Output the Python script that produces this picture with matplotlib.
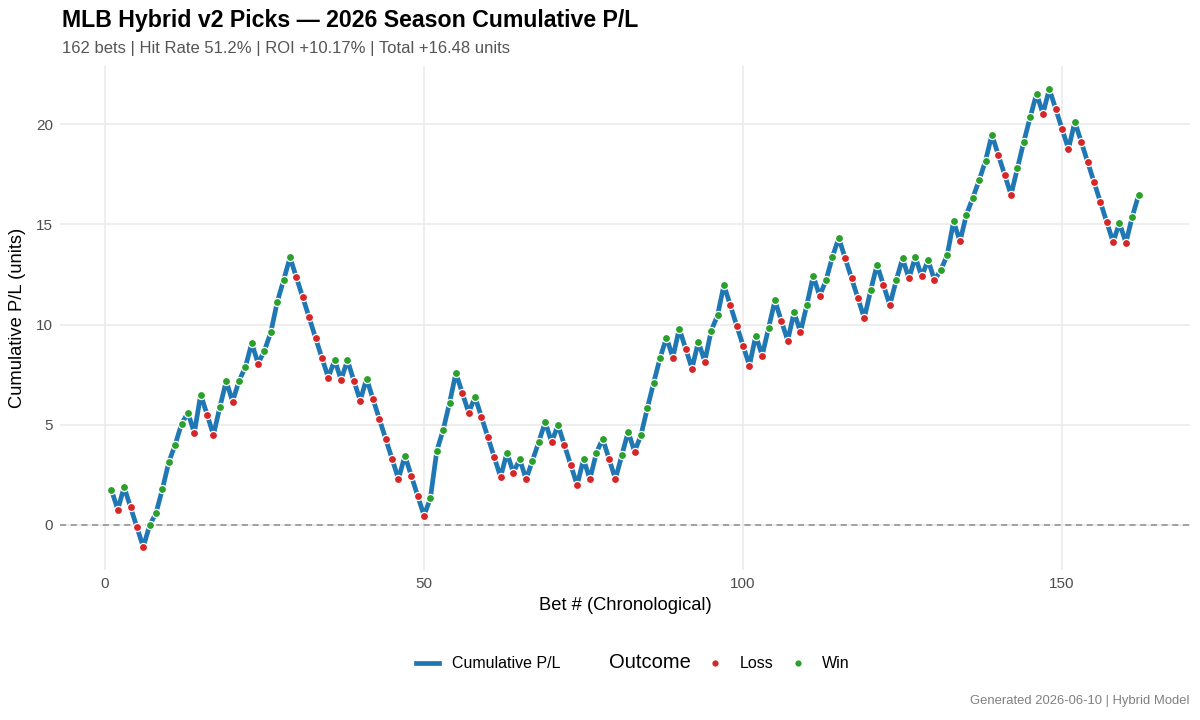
import numpy as np
import matplotlib
matplotlib.use("Agg")
import matplotlib.pyplot as plt
from matplotlib.lines import Line2D

plt.rcParams['font.family'] = ['Liberation Sans', 'DejaVu Sans']

# cumulative P/L after each bet
cum_pl = [
    1.75, 0.75, 1.88, 0.88, -0.12, -1.12, -0.03, 0.58, 1.78, 3.12,
    4.00, 5.03, 5.60, 4.58, 6.50, 5.50, 4.48, 5.87, 7.17, 6.15,
    7.18, 7.87, 9.07, 8.05, 8.70, 9.62, 11.13, 12.22, 13.35, 12.35,
    11.35, 10.35, 9.33, 8.33, 7.35, 8.23, 7.23, 8.22, 7.20, 6.20,
    7.30, 6.28, 5.28, 4.28, 3.28, 2.28, 3.45, 2.45, 1.45, 0.45,
    1.32, 3.68, 4.73, 6.08, 7.58, 6.58, 5.60, 6.38, 5.38, 4.38,
    3.38, 2.38, 3.60, 2.60, 3.27, 2.27, 3.20, 4.15, 5.13, 4.12,
    4.98, 3.98, 2.98, 1.98, 3.27, 2.27, 3.57, 4.30, 3.28, 2.28,
    3.47, 4.65, 3.65, 4.47, 5.82, 7.10, 8.33, 9.35, 8.35, 9.80,
    8.80, 7.80, 9.15, 8.15, 9.68, 10.45, 11.97, 10.97, 9.95, 8.95,
    7.95, 9.45, 8.45, 9.83, 11.20, 10.18, 9.20, 10.62, 9.62, 10.98,
    12.43, 11.43, 12.20, 13.37, 14.32, 13.32, 12.32, 11.32, 10.32, 11.70,
    12.98, 11.98, 10.97, 12.20, 13.30, 12.30, 13.38, 12.40, 13.22, 12.22,
    12.72, 13.47, 15.15, 14.15, 15.48, 16.32, 17.20, 18.18, 19.48, 18.48,
    17.48, 16.48, 17.80, 19.13, 20.35, 21.53, 20.53, 21.77, 20.77, 19.77,
    18.77, 20.13, 19.13, 18.13, 17.12, 16.12, 15.12, 14.12, 15.08, 14.08,
    15.38, 16.48,
]

title = "MLB Hybrid v2 Picks \u2014 2026 Season Cumulative P/L"
subtitle = "162 bets | Hit Rate 51.2% | ROI +10.17% | Total +16.48 units"
caption = "Generated 2026-06-10 | Hybrid Model"
x_ticks = [0, 50, 100, 150]
y_ticks = [0, 5, 10, 15, 20]

LINE_COLOR = '#1F77B4'
LOSS_COLOR = '#D62728'
WIN_COLOR = '#2CA02C'


def get_outcomes(values):
    steps = np.diff(np.concatenate([[0.0], values]))
    return np.where(steps > 0, 'Win', 'Loss')


def plot_cumulative(values):
    values = np.array(values)
    bets = np.arange(1, len(values) + 1)
    outcomes = get_outcomes(values)

    fig = plt.figure(figsize=(12, 7.2), dpi=100)
    ax = fig.add_axes([60 / 1200, 150 / 720, 1130 / 1200, 504 / 720])

    ax.axhline(0, color='#8c8c8c', linestyle=(0, (4, 3)), linewidth=1.1, zorder=1)
    ax.plot(bets, values, color=LINE_COLOR, linewidth=3.4, zorder=2,
            solid_joinstyle='round', solid_capstyle='round')
    for name, col in [('Loss', LOSS_COLOR), ('Win', WIN_COLOR)]:
        m = outcomes == name
        ax.scatter(bets[m], values[m], s=34, color=col, edgecolor='white',
                   linewidth=0.9, zorder=3)

    span = bets[-1] - bets[0]
    ax.set_xlim(bets[0] - 0.05 * span, bets[-1] + 0.05 * span)
    yr = values.max() - values.min()
    ax.set_ylim(values.min() - 0.05 * yr, values.max() + 0.05 * yr)
    ax.set_xticks(x_ticks)
    ax.set_yticks(y_ticks)

    for s in ax.spines.values():
        s.set_visible(False)
    ax.grid(True, color='#ebebeb', linewidth=1.2)
    ax.set_axisbelow(True)
    ax.tick_params(length=0, labelsize=11, labelcolor='#4d4d4d', pad=5)

    ax.set_xlabel("Bet # (Chronological)", fontsize=13.2)
    ax.set_ylabel("Cumulative P/L (units)", fontsize=13.2)
    ax.xaxis.set_label_coords(0.5, -0.054)
    ax.yaxis.set_label_coords(-0.030, 0.5)

    fig.text(62 / 1200, 1 - 20 / 720, title, fontsize=16.7, fontweight='bold',
             va='center', ha='left')
    fig.text(62 / 1200, 1 - 48 / 720, subtitle, fontsize=12, color='#555555',
             va='center', ha='left')
    fig.text(1190 / 1200, 1 - 701 / 720, caption, fontsize=9.4, color='#808080',
             va='center', ha='right')

    handles = [
        Line2D([], [], color=LINE_COLOR, linewidth=3.4),
        Line2D([], [], linestyle='none'),
        Line2D([], [], marker='o', linestyle='none', markersize=5.5,
               markerfacecolor=LOSS_COLOR, markeredgecolor='white'),
        Line2D([], [], marker='o', linestyle='none', markersize=5.5,
               markerfacecolor=WIN_COLOR, markeredgecolor='white'),
    ]
    labels = ["Cumulative P/L", "Outcome", "Loss", "Win"]
    leg = fig.legend(handles, labels, loc='center', ncol=4,
                     bbox_to_anchor=(633 / 1200, 1 - 663 / 720), frameon=False,
                     fontsize=11.5, handlelength=1.45, handletextpad=0.8,
                     columnspacing=0.8)
    leg.get_texts()[1].set_fontsize(14.5)

    fig.savefig("out.png", dpi=100)


if __name__ == "__main__":
    plot_cumulative(cum_pl)
